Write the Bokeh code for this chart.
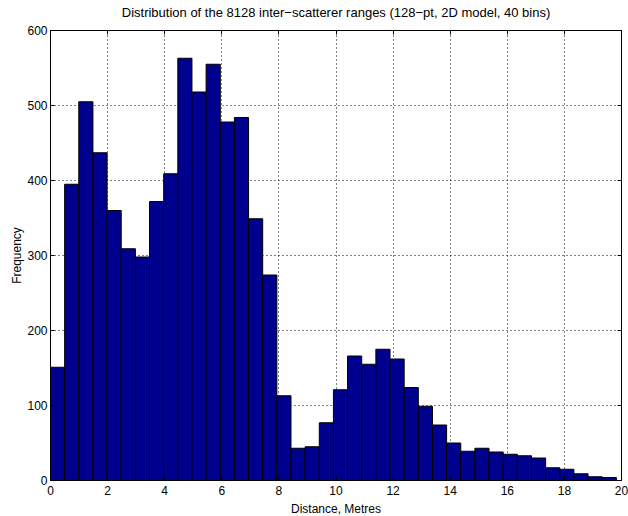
import numpy as np
from bokeh.plotting import figure
from bokeh.models import (LinearAxis, Range1d, FixedTicker, ColumnDataSource,
                          CustomLabelingPolicy)
from bokeh.embed import file_html
from bokeh.resources import INLINE

# Histogram of inter-scatterer ranges: 40 equal bins spanning the observed range
counts = [151, 395, 505, 437, 360, 309, 298, 372, 409, 563,
          518, 555, 478, 484, 349, 274, 113, 43, 45, 77,
          121, 166, 155, 175, 162, 124, 99, 74, 50, 39,
          43, 38, 35, 33, 30, 17, 15, 9, 5, 4]
range_min = 0.0
range_max = 19.82
x_ticks = [0, 2, 4, 6, 8, 10, 12, 14, 16, 18, 20]
y_ticks = [0, 100, 200, 300, 400, 500, 600]

edges = np.linspace(range_min, range_max, len(counts) + 1)
src = ColumnDataSource(dict(left=edges[:-1], right=edges[1:], top=counts,
                            bottom=[0] * len(counts)))

FONT = "Liberation Sans"

p = figure(frame_width=571, frame_height=450,
           x_range=Range1d(0, 20), y_range=Range1d(0, 600),
           title="Distribution of the 8128 inter\u2212scatterer ranges (128\u2212pt, 2D model, 40 bins)",
           output_backend="svg", toolbar_location=None,
           min_border_left=50, min_border_right=7,
           min_border_top=30, min_border_bottom=36)

p.title.align = "center"
p.title.text_font = FONT
p.title.text_font_size = "13px"
p.title.text_font_style = "normal"
p.title.text_color = "#000000"
p.title.standoff = 0

p.quad(left="left", right="right", top="top", bottom="bottom", source=src,
       fill_color="#00008F", line_color="#000000", line_width=1)

p.outline_line_color = "#000000"
p.outline_line_width = 1

for ax in (p.xaxis[0], p.yaxis[0]):
    ax.major_tick_in = 4
    ax.major_tick_out = 0
    ax.minor_tick_in = 0
    ax.minor_tick_out = 0
    ax.axis_line_color = "#000000"
    ax.major_tick_line_color = "#000000"
    ax.major_label_text_font = FONT
    ax.major_label_text_font_size = "12px"
    ax.major_label_text_color = "#000000"
    ax.axis_label_text_font = FONT
    ax.axis_label_text_font_size = "12px"
    ax.axis_label_text_font_style = "normal"
    ax.axis_label_text_color = "#000000"

p.xaxis[0].ticker = FixedTicker(ticks=x_ticks)
p.yaxis[0].ticker = FixedTicker(ticks=y_ticks)
p.xaxis[0].axis_label = "Distance, Metres"
p.yaxis[0].axis_label = "Frequency"
p.xaxis[0].major_label_standoff = 5
p.yaxis[0].major_label_standoff = 3
p.xaxis[0].axis_label_standoff = 4
p.yaxis[0].axis_label_standoff = 0

# Box ticks on the top and right edges, without labels
no_labels = CustomLabelingPolicy(code="""
    for (const i of indices) { indices.unset(i) }
    return indices
""")
top_ax = LinearAxis(ticker=FixedTicker(ticks=x_ticks), major_tick_in=4, major_tick_out=0,
                    minor_tick_in=0, minor_tick_out=0, major_label_policy=no_labels,
                    major_label_standoff=0, axis_line_color="#000000")
right_ax = LinearAxis(ticker=FixedTicker(ticks=y_ticks), major_tick_in=4, major_tick_out=0,
                      minor_tick_in=0, minor_tick_out=0, major_label_policy=no_labels,
                      major_label_standoff=0, axis_line_color="#000000")
p.add_layout(top_ax, "above")
p.add_layout(right_ax, "right")

p.xgrid[0].ticker = FixedTicker(ticks=x_ticks)
p.ygrid[0].ticker = FixedTicker(ticks=y_ticks)
for g in (p.xgrid[0], p.ygrid[0]):
    g.grid_line_color = "#000000"
    g.grid_line_dash = "1 3"
    g.grid_line_width = 1
    g.grid_line_alpha = 1.0

p.background_fill_color = "#ffffff"
p.border_fill_color = "#ffffff"

open("out.html", "w").write(file_html(p, INLINE))
